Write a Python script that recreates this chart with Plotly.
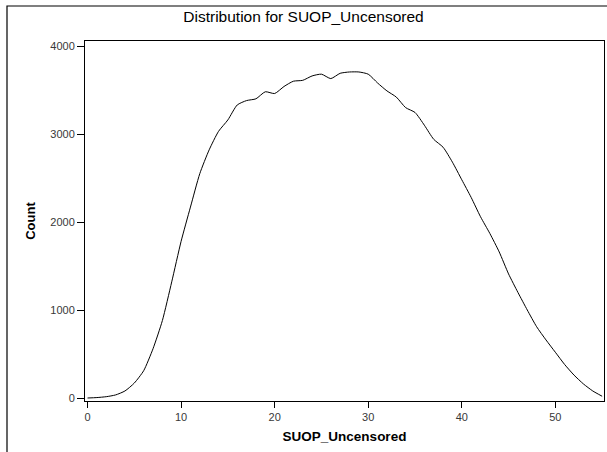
import plotly.graph_objects as go

# Data
suop_values = [0, 1, 2, 3, 4, 5, 6, 7, 8, 9, 10, 11, 12, 13, 14, 15, 16, 17, 18, 19,
               20, 21, 22, 23, 24, 25, 26, 27, 28, 29, 30, 31, 32, 33, 34, 35, 36, 37,
               38, 39, 40, 41, 42, 43, 44, 45, 46, 47, 48, 49, 50, 51, 52, 53, 54, 55]
counts = [0, 5, 15, 35, 80, 170, 310, 560, 880, 1320, 1780, 2170, 2550, 2820, 3030,
          3160, 3330, 3380, 3400, 3480, 3460, 3540, 3600, 3610, 3660, 3680, 3630, 3690,
          3705, 3705, 3680, 3580, 3490, 3420, 3300, 3245, 3100, 2940, 2850, 2680, 2480,
          2280, 2060, 1870, 1660, 1410, 1200, 1000, 810, 660, 520, 380, 260, 160, 80, 20]
x_ticks = [0, 10, 20, 30, 40, 50]
y_ticks = [0, 1000, 2000, 3000, 4000]

W, H = 607, 452
L, R, T, B = 85, 3, 41, 51
pw, ph = W - L - R, H - T - B

fig = go.Figure()
fig.add_trace(go.Scatter(
    x=suop_values, y=counts, mode="lines",
    line=dict(color="black", width=1, shape="spline", smoothing=0.6),
    hoverinfo="skip", showlegend=False))

def px_to_paper_x(px):
    return (px - L) / pw

def py_to_paper_y(py):
    return (H - B - py) / ph

fig.update_layout(
    width=W, height=H,
    margin=dict(l=L, r=R, t=T, b=B, pad=0),
    paper_bgcolor="white", plot_bgcolor="white",
    font=dict(family="Liberation Sans, Arial, sans-serif", color="black"),
    title=dict(text="Distribution for SUOP_Uncensored", x=0.5, xref="container",
               xanchor="center", y=1 - 17 / H, yanchor="middle",
               font=dict(size=15.5, color="black")),
    showlegend=False,
    shapes=[dict(type="rect", xref="paper", yref="paper",
                 x0=px_to_paper_x(7), x1=px_to_paper_x(W + 10),
                 y0=py_to_paper_y(H + 10), y1=py_to_paper_y(6),
                 line=dict(color="black", width=1.2), fillcolor="rgba(0,0,0,0)",
                 layer="below")],
)

fig.update_xaxes(
    range=[-0.27, 55.2], tickvals=x_ticks, ticks="outside", ticklen=6,
    tickcolor="black", tickwidth=1, showline=True, linecolor="black", linewidth=1,
    mirror=True, showgrid=False, zeroline=False,
    tickfont=dict(size=11, color="#383838"),
    title=dict(text="<b>SUOP_Uncensored</b>", font=dict(size=13.5, color="black"),
               standoff=9))
fig.update_yaxes(
    range=[-34, 4057], tickvals=y_ticks, ticks="outside", ticklen=7,
    tickcolor="black", tickwidth=1, showline=True, linecolor="black", linewidth=1,
    mirror=True, showgrid=False, zeroline=False,
    tickfont=dict(size=11, color="#383838"),
    title=dict(text="<b>Count</b>", font=dict(size=13, color="black"),
               standoff=11))

fig.write_html("out.html")
